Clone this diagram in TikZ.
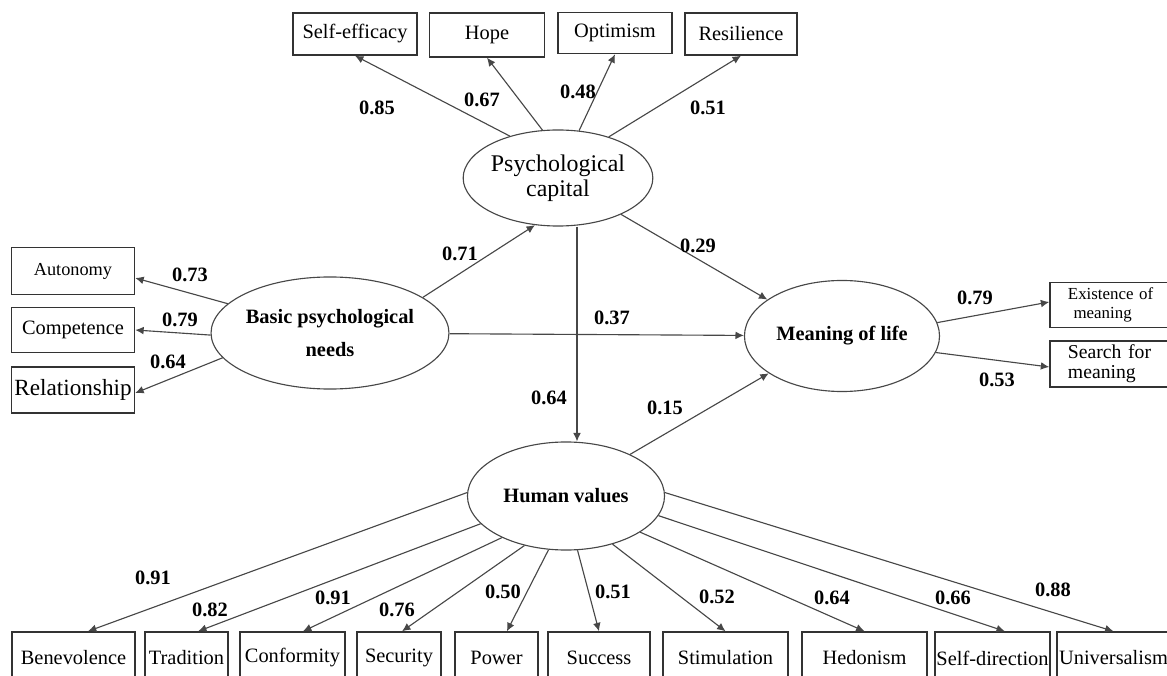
\documentclass[tikz,border=0pt]{standalone}
\usepackage{fontspec}
\setmainfont{Liberation Serif}
\usetikzlibrary{shapes.geometric, arrows.meta}
\colorlet{line col}{black!72}
\colorlet{box col}{black!80}
\tikzset{
  latent/.style={draw=line col, ellipse, line width=0.8pt, align=center, inner sep=0pt,
    font=\fontsize{14.5}{17}\selectfont\bfseries},
  indicator/.style={draw=box col, rectangle, line width=1pt, inner sep=0pt,
    font=\fontsize{14.5}{17}\selectfont},
  coef/.style={inner sep=0pt, font=\fontsize{14.5}{17}\selectfont\bfseries},
  loading/.style={-{Latex[length=6pt, width=5.5pt]}, draw=line col, line width=0.8pt},
  bottombox/.style={indicator, minimum height=1.3cm}
}

\begin{document}
\begin{tikzpicture}[x=0.025cm, y=-0.025cm]
    \clip (0,0) rectangle (1167,676);
    % psychological capital and its indicators
    \node[indicator, minimum width=3.1cm, minimum height=1.05cm] (selfeff) at (355,34) {Self-efficacy};
    \node[indicator, minimum width=2.875cm, minimum height=1.1cm] (hope) at (487,35) {Hope};
    \node[indicator, minimum width=2.85cm, minimum height=1.025cm] (optim) at (615,33) {Optimism};
    \node[indicator, minimum width=2.8cm, minimum height=1.05cm] (resil) at (741,34) {Resilience};
    \node[latent, font=\fontsize{17}{18}\selectfont, minimum width=4.625cm, minimum height=2.4cm] (psycap) at (558,178) {Psychological\\capital};
    % basic needs
    \node[latent, minimum width=4.875cm, minimum height=2.8cm] (bpn) at (330,333) {Basic psychological\\[6pt]needs};
    \node[indicator, font=\fontsize{13}{15}\selectfont, minimum width=3.075cm, minimum height=1.175cm] (auton) at (73,271) {Autonomy};
    \node[indicator, minimum width=3.075cm, minimum height=1.125cm] (compet) at (73,330) {Competence};
    \node[indicator, font=\fontsize{16.5}{18}\selectfont, minimum width=3.075cm, minimum height=1.15cm] (relat) at (73,390) {Relationship};
    % meaning of life
    \node[latent, minimum width=4.875cm, minimum height=2.775cm] (mol) at (842,336) {Meaning of life};
    \node[indicator, align=left, inner xsep=0.45cm, text width=2.55cm, minimum height=1.125cm,
      font=\fontsize{12}{13}\selectfont] (exist) at (1119,305) {Existence of\\\ meaning};
    \node[indicator, align=left, inner xsep=0.45cm, text width=2.55cm, minimum height=1.15cm,
      font=\fontsize{14}{14}\selectfont] (search) at (1119,364) {Search for\\meaning};
    % human values
    \node[latent, minimum width=4.925cm, minimum height=2.7cm] (hv) at (566,496) {Human values};
    \node[bottombox, minimum width=3.075cm] (bene) at (73.5,658) {Benevolence};
    \node[bottombox, minimum width=2.075cm] (trad) at (186.5,658) {Tradition};
    \node[bottombox, minimum width=2.625cm] (conf) at (292.5,658) {Conformity};
    \node[bottombox, minimum width=2.1cm] (secur) at (399,658) {Security};
    \node[bottombox, minimum width=2.075cm] (power) at (496.5,658) {Power};
    \node[bottombox, minimum width=2.55cm] (success) at (599,658) {Success};
    \node[bottombox, minimum width=3.125cm] (stimul) at (725.5,658) {Stimulation};
    \node[bottombox, minimum width=3.125cm] (hedon) at (864.5,658) {Hedonism};
    \node[bottombox, minimum width=2.875cm] (selfdir) at (992.5,658) {Self-direction};
    \node[bottombox, minimum width=2.825cm] (univ) at (1113.5,658) {Universalism};

    \draw[loading] (psycap.139) -- (selfeff.south);
    \draw[loading] (psycap.108) -- (hope.south);
    \draw[loading] (psycap.66) -- (optim.south);
    \draw[loading] (psycap.39) -- (resil.south);
    \draw[loading] (bpn.164) -- ([yshift=-0.175cm]auton.east);
    \draw[loading] (bpn.181) -- (compet.east);
    \draw[loading] (bpn.193) -- ([yshift=-0.075cm]relat.east);
    \draw[loading] (bpn.21) -- (psycap.244);
    \draw[loading] (bpn) -- (mol);
    \draw[loading] (psycap.-30) -- (mol.154);
    \draw[loading] ([xshift=0.475cm]psycap.south) -- ([xshift=0.475cm]psycap.south |- hv.north);
    \draw[loading] (hv.33) -- (mol.207);
    \draw[loading] (mol.8) -- ([yshift=0.075cm]exist.west);
    \draw[loading] (mol.-10) -- ([yshift=-0.075cm]search.west);
    \draw[loading] (hv.178) -- ([xshift=0.36cm]bene.north);
    \draw[loading] (hv.198) -- ([xshift=0.29cm]trad.north);
    \draw[loading] (hv.213) -- ([xshift=0.26cm]conf.north);
    \draw[loading] (hv.230) -- ([xshift=0.075cm]secur.north);
    \draw[loading] (hv.252) -- ([xshift=0.26cm]power.north);
    \draw[loading] (hv.282) -- (success.north);
    \draw[loading] (hv.314) -- (stimul.north);
    \draw[loading] (hv.334) -- (hedon.north);
    \draw[loading] (hv.348) -- ([xshift=0.31cm]selfdir.north);
    \draw[loading] (hv.2) -- (univ.north);

    % coefficients
    \node[coef] (w-selfeff) at (377,108) {0.85};
    \node[coef] (w-hope) at (482,100) {0.67};
    \node[coef] (w-optim) at (578,92) {0.48};
    \node[coef] (w-resil) at (708,108) {0.51};
    \node[coef] (w-auton) at (190,275) {0.73};
    \node[coef] (w-compet) at (180,320) {0.79};
    \node[coef] (w-relat) at (168,362) {0.64};
    \node[coef] (w-bpn-pc) at (460,254) {0.71};
    \node[coef] (w-bpn-mol) at (612,318) {0.37};
    \node[coef] (w-pc-mol) at (698,246) {0.29};
    \node[coef] (w-pc-hv) at (549,398) {0.64};
    \node[coef] (w-hv-mol) at (665,408) {0.15};
    \node[coef] (w-exist) at (975,298) {0.79};
    \node[coef] (w-search) at (997,380) {0.53};
    \node[coef] (w-bene) at (153,578) {0.91};
    \node[coef] (w-trad) at (210,610) {0.82};
    \node[coef] (w-conf) at (333,598) {0.91};
    \node[coef] (w-secur) at (397,610) {0.76};
    \node[coef] (w-power) at (503,592) {0.50};
    \node[coef] (w-success) at (613,592) {0.51};
    \node[coef] (w-stimul) at (717,597) {0.52};
    \node[coef] (w-hedon) at (832,598) {0.64};
    \node[coef] (w-selfdir) at (953,598) {0.66};
    \node[coef] (w-univ) at (1053,590) {0.88};
\end{tikzpicture}
\end{document}
